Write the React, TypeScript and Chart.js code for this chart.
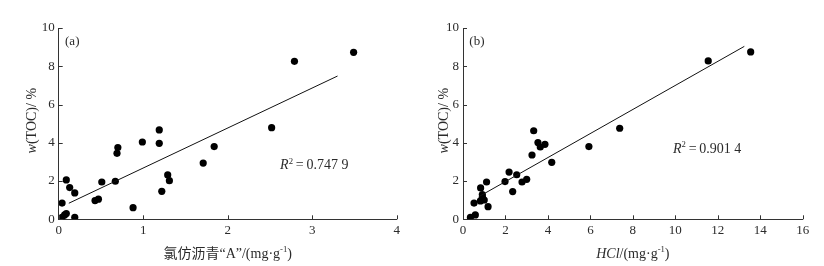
import React, { useEffect, useRef } from "react";
import { Chart, registerables } from "chart.js";

Chart.register(...registerables);

// ---- Data: panel (a) chloroform bitumen "A" vs TOC ----
const aBitumen = [0.04, 0.04, 0.07, 0.09, 0.09, 0.13, 0.19, 0.19, 0.43, 0.47, 0.51, 0.67, 0.69, 0.70, 0.88, 0.99, 1.19, 1.19, 1.22, 1.29, 1.31, 1.71, 1.84, 2.52, 2.79, 3.49];
const aToc = [0.85, 0.10, 0.23, 0.30, 2.06, 1.66, 1.38, 0.10, 0.98, 1.05, 1.95, 1.99, 3.45, 3.75, 0.61, 4.04, 4.67, 3.97, 1.46, 2.32, 2.02, 2.94, 3.80, 4.79, 8.26, 8.73];
const aTrendX = [0.12, 3.30];
const aTrendY = [0.84, 7.49];

// ---- Data: panel (b) HCl vs TOC ----
const bHcl = [0.35, 0.58, 0.52, 0.82, 0.83, 0.91, 0.92, 1.0, 1.11, 1.18, 1.98, 2.17, 2.34, 2.53, 2.78, 3.0, 3.25, 3.33, 3.53, 3.64, 3.86, 4.18, 5.93, 7.38, 11.55, 13.55];
const bToc = [0.10, 0.23, 0.85, 0.96, 1.64, 1.29, 1.15, 1.01, 1.95, 0.66, 1.97, 2.47, 1.45, 2.33, 1.95, 2.09, 3.36, 4.63, 4.01, 3.78, 3.92, 2.98, 3.80, 4.76, 8.28, 8.75];
const bTrendX = [0.74, 13.25];
const bTrendY = [1.18, 9.04];

const TEXT = "#2b2b2b";
const AXIS = "#333333";
const FAMILY = "'Times New Roman', 'Liberation Serif', 'Noto Sans CJK SC', serif";

type Seg = { t: string; italic?: boolean; sup?: boolean };

function fontFor(seg: Seg, size: number) {
  const s = seg.sup ? size * 0.62 : size;
  return `${seg.italic ? "italic " : ""}${s}px ${FAMILY}`;
}

function drawRich(ctx: CanvasRenderingContext2D, segs: Seg[], x: number, y: number, size: number, align: "left" | "center", rotate = 0) {
  ctx.save();
  ctx.translate(x, y);
  if (rotate) ctx.rotate(rotate);
  ctx.textBaseline = "middle";
  ctx.textAlign = "left";
  ctx.fillStyle = TEXT;
  let total = 0;
  const widths = segs.map((s) => {
    ctx.font = fontFor(s, size);
    const w = ctx.measureText(s.t).width;
    total += w;
    return w;
  });
  let cx = align === "center" ? -total / 2 : 0;
  segs.forEach((s, i) => {
    ctx.font = fontFor(s, size);
    ctx.fillText(s.t, cx, s.sup ? -size * 0.32 : 0);
    cx += widths[i];
  });
  ctx.restore();
}

type PanelProps = {
  xs: number[];
  ys: number[];
  trendX: number[];
  trendY: number[];
  xMax: number;
  xStep: number;
  yAxisWidth: number;
  rightPad: number;
  tag: string;
  tagPos: number[];
  r2: string;
  r2Pos: number[];
  xTitle: Seg[];
};

function Panel(p: PanelProps) {
  const ref = useRef<HTMLCanvasElement | null>(null);
  useEffect(() => {
    if (!ref.current) return;
    const points = p.xs.map((x, i) => ({ x, y: p.ys[i] }));
    const trend = p.trendX.map((x, i) => ({ x, y: p.trendY[i] }));
    const decor = {
      id: "decor",
      afterDraw(chart: any) {
        const ctx = chart.ctx as CanvasRenderingContext2D;
        const xs = chart.scales.x;
        const ys = chart.scales.y;
        const area = chart.chartArea;
        ctx.save();
        ctx.strokeStyle = AXIS;
        ctx.lineWidth = 1;
        ctx.beginPath();
        xs.ticks.forEach((t: any) => {
          const px = Math.round(xs.getPixelForValue(t.value)) + 0.5;
          ctx.moveTo(px, area.bottom);
          ctx.lineTo(px, area.bottom - 4);
        });
        ys.ticks.forEach((t: any) => {
          const py = Math.round(ys.getPixelForValue(t.value)) + 0.5;
          ctx.moveTo(area.left, py);
          ctx.lineTo(area.left + 4, py);
        });
        ctx.stroke();
        ctx.restore();
        // axis titles
        drawRich(ctx, p.xTitle, (area.left + area.right) / 2, 254, 14, "center");
        drawRich(ctx, [{ t: "w", italic: true }, { t: "(TOC)/ %" }], 32, (area.top + area.bottom) / 2 - 3, 14, "center", -Math.PI / 2);
        // annotations
        drawRich(ctx, [{ t: p.tag }], xs.getPixelForValue(p.tagPos[0]), ys.getPixelForValue(p.tagPos[1]), 13, "left");
        drawRich(ctx, [{ t: "R", italic: true }, { t: "2", sup: true }, { t: "\u2009=\u2009" + p.r2 }], xs.getPixelForValue(p.r2Pos[0]), ys.getPixelForValue(p.r2Pos[1]), 14, "left");
      },
    };
    const chart = new Chart(ref.current, {
      type: "scatter",
      data: {
        datasets: [
          {
            type: "line",
            data: trend,
            borderColor: "#111",
            borderWidth: 1,
            pointRadius: 0,
            fill: false,
            showLine: true,
          } as any,
          {
            data: points,
            backgroundColor: "#000",
            borderColor: "#000",
            borderWidth: 0,
            pointRadius: 3.6,
          },
        ],
      },
      options: {
        responsive: false,
        animation: false,
        devicePixelRatio: 1,
        layout: { padding: { left: 0, right: p.rightPad, top: 28, bottom: 0 } },
        plugins: { legend: { display: false }, tooltip: { enabled: false } },
        scales: {
          x: {
            type: "linear",
            min: 0,
            max: p.xMax,
            ticks: { stepSize: p.xStep, color: TEXT, padding: 3, font: { family: FAMILY, size: 13 } },
            grid: { display: false, drawTicks: false },
            border: { display: true, color: AXIS, width: 1 },
            afterFit: (s: any) => {
              s.height = 46.7;
            },
          },
          y: {
            type: "linear",
            min: 0,
            max: 10,
            ticks: { stepSize: 2, color: TEXT, padding: 4, font: { family: FAMILY, size: 13 } },
            grid: { display: false, drawTicks: false },
            border: { display: true, color: AXIS, width: 1 },
            afterFit: (s: any) => {
              s.width = p.yAxisWidth;
            },
          },
        },
      },
      plugins: [decor],
    });
    return () => chart.destroy();
  }, []);
  return <canvas ref={ref} width={412} height={266} style={{ display: "block", width: 412, height: 266 }} />;
}

export default function App() {
  return (
    <div style={{ position: "absolute", left: 0, top: 0, width: 824, height: 266, display: "flex", background: "#fff" }}>
      <Panel
        xs={aBitumen}
        ys={aToc}
        trendX={aTrendX}
        trendY={aTrendY}
        xMax={4}
        xStep={1}
        yAxisWidth={58.7}
        rightPad={15.3}
        tag="(a)"
        tagPos={[0.075, 9.3]}
        r2="0.747 9"
        r2Pos={[2.62, 2.8]}
        xTitle={[{ t: "氯仿沥青“A”/(mg·g" }, { t: "-1", sup: true }, { t: ")" }]}
      />
      <Panel
        xs={bHcl}
        ys={bToc}
        trendX={bTrendX}
        trendY={bTrendY}
        xMax={16}
        xStep={2}
        yAxisWidth={51}
        rightPad={21.3}
        tag="(b)"
        tagPos={[0.3, 9.3]}
        r2="0.901 4"
        r2Pos={[9.89, 3.64]}
        xTitle={[{ t: "HCl", italic: true }, { t: "/(mg·g" }, { t: "-1", sup: true }, { t: ")" }]}
      />
    </div>
  );
}
